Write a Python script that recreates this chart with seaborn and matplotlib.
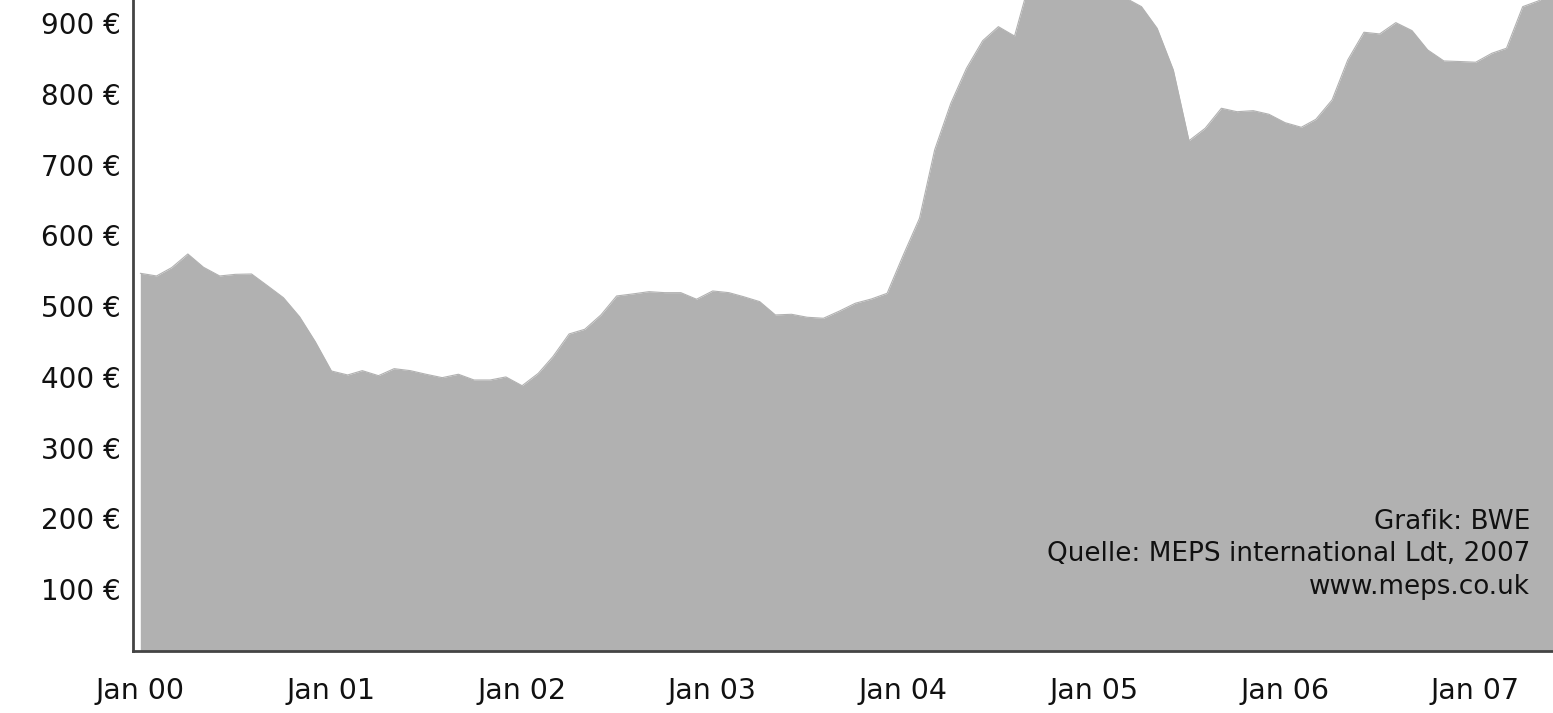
import matplotlib
matplotlib.use("Agg")
import matplotlib.pyplot as plt
import matplotlib.transforms as mtransforms
import pandas as pd
import seaborn as sns

# monthly steel price (EUR/t), Jan 2000 - Jun 2007
prices = [546.5, 542.7, 554.5, 573.8, 555, 542.7, 545, 545.5, 528.6, 512, 485, 449.8,
          408.3, 402.7, 408.8, 401.7, 411.6, 408.8, 403.7, 398.9, 403.7, 395.6, 395.6, 399.9,
          387.5, 405, 428.6, 460.7, 467.3, 487.6, 514.4, 517.3, 520.5, 519.1, 519.1, 509.8,
          521.5, 519.1, 513.4, 506.4, 487.6, 488.5, 484.3, 482.9, 493.2, 504.1, 510.2, 518.2,
          572.4, 624.3, 721, 787, 836.5, 875.5, 895.3, 882, 965, 980, 990, 990,
          980, 960, 936, 923.6, 893, 834, 734, 751.6, 779.9, 775, 776.5, 771.4,
          759.5, 753, 764.3, 791.7, 848.2, 887.4, 885, 901, 889.7, 862.4, 846.8, 846,
          845, 857.7, 864.8, 923.6, 931.7, 945]
year_labels = ["Jan 00", "Jan 01", "Jan 02", "Jan 03", "Jan 04", "Jan 05", "Jan 06", "Jan 07"]
y_ticks = [100, 200, 300, 400, 500, 600, 700, 800, 900]
source_lines = ["Grafik: BWE", "Quelle: MEPS international Ldt, 2007", "www.meps.co.uk"]

# mid-month dates
dates = pd.date_range("2000-01-01", periods=len(prices), freq="MS") + pd.Timedelta(days=14)
df = pd.DataFrame({"date": dates, "price": prices})

sns.set_style("white")
plt.rcParams["font.family"] = ["DejaVu Sans"]

fig = plt.figure(figsize=(15.53, 7.13), dpi=100)
ax = fig.add_axes([133 / 1553, 62 / 713, 1 - 133 / 1553, 1 - 62 / 713])

fill = "#b1b1b1"
sns.lineplot(data=df, x="date", y="price", color=fill, linewidth=0.8, ax=ax)
ax.fill_between(df["date"], df["price"], 0, color=fill, linewidth=0)

ax.set_xlim(pd.Timestamp("2000-01-01"), pd.Timestamp("2007-06-12"))
ax.set_ylim(12.3, 933)

ax.set_yticks(y_ticks)
ax.set_yticklabels([f"{v} €" for v in y_ticks])
ax.tick_params(axis="y", length=0, pad=9, labelsize=20, labelcolor="#111111")

ticks = pd.date_range("2000-01-01", periods=len(year_labels), freq="YS")
ax.set_xticks(ticks)
ax.set_xticklabels(year_labels)
ax.tick_params(axis="x", direction="in", length=13, width=1.5, color="#333333",
               pad=19, labelsize=20.5, labelcolor="#111111")
# labels sit a bit right of the ticks in the original
offset = mtransforms.ScaledTranslation(7 / 100, 0, fig.dpi_scale_trans)
for lab in ax.get_xticklabels():
    lab.set_transform(lab.get_transform() + offset)

ax.set_xlabel("")
ax.set_ylabel("")

for side in ["top", "right"]:
    ax.spines[side].set_visible(False)
for side in ["left", "bottom"]:
    ax.spines[side].set_color("#444444")
    ax.spines[side].set_linewidth(2)

for i, line in enumerate(source_lines):
    fig.text(1530 / 1553, 1 - (522 + i * 32.5) / 713, line, ha="right", va="center",
             fontsize=18.9, color="#111111")

fig.savefig("out.png", dpi=100)
